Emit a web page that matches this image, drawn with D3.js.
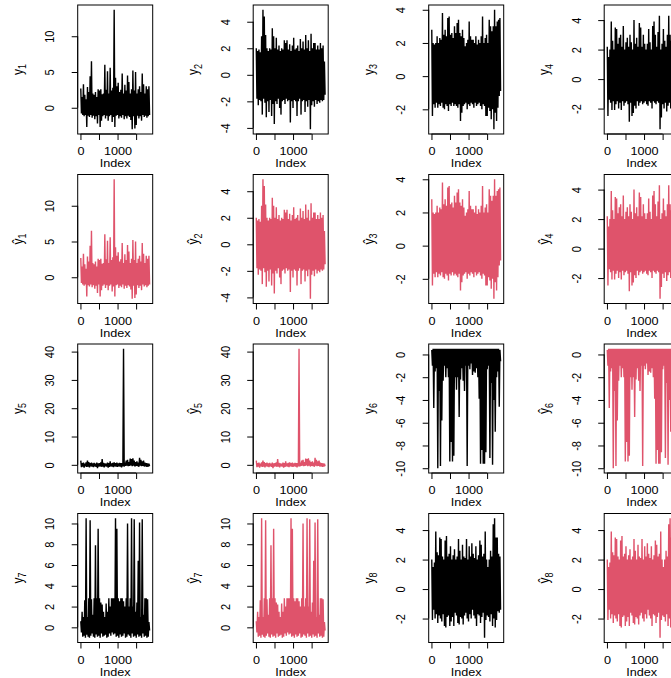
<!DOCTYPE html>
<html>
<head>
<meta charset="utf-8">
<script src="https://cdn.jsdelivr.net/npm/d3@7"></script>
<style>
  body { margin: 0; background: #fff; }
  text { font-family: "Liberation Sans", Arial, Helvetica, sans-serif; fill: #000; }
</style>
</head>
<body>
<script>
const width = 671;
const height = 678;

// each series: n points, summarised as high / low value per block of 36 indices
const nPoints = 1872;
const blockSize = 36;

const y1Hi = [2.7,1.5,3.3,1.8,1.2,2.9,2.2,4.4,6.5,2.0,1.8,2.2,1.5,2.6,2.4,2.6,1.9,2.0,6.0,2.5,5.1,2.0,5.6,2.4,2.8,13.7,4.2,3.0,3.5,2.2,2.5,4.8,2.0,3.2,2.4,4.5,3.6,2.0,2.6,5.2,2.4,5.0,2.0,2.6,3.0,2.2,4.8,3.3,2.0,3.0,2.6,3.0];
const y1Lo = [-0.8,-1.0,-1.2,-1.0,-2.7,-1.1,-1.3,-1.0,-1.4,-1.1,-1.6,-1.2,-2.2,-1.0,-2.7,-1.8,-1.2,-1.0,-1.5,-1.1,-1.8,-1.2,-1.0,-2.0,-1.3,-2.7,-1.1,-1.0,-1.5,-1.2,-1.4,-1.0,-1.6,-1.2,-1.5,-1.1,-1.3,-1.7,-3.0,-1.2,-2.9,-2.4,-1.1,-1.5,-1.2,-1.8,-1.0,-1.3,-1.1,-1.4,-1.2,-1.0];

const y2Hi = [2.0,1.8,1.9,1.7,2.9,4.9,4.4,3.0,2.0,1.8,2.0,1.9,3.5,2.9,2.0,2.8,1.9,2.2,1.8,2.0,1.9,2.6,2.4,2.6,1.9,2.3,1.8,2.2,2.8,1.9,2.0,2.2,1.8,2.7,2.0,2.5,1.9,3.0,2.0,2.6,1.8,3.1,2.0,2.4,2.4,1.9,2.2,1.9,2.4,2.0,2.2,1.0];
const y2Lo = [-1.8,-2.3,-1.9,-2.0,-3.0,-1.8,-2.1,-3.2,-2.0,-2.8,-1.9,-3.1,-2.2,-3.7,-2.0,-2.2,-1.8,-2.5,-3.0,-2.0,-1.9,-2.2,-1.8,-2.0,-1.9,-3.6,-2.0,-2.5,-1.9,-2.0,-3.1,-2.0,-1.8,-3.0,-2.0,-1.9,-2.8,-2.0,-2.4,-1.9,-4.1,-2.3,-2.0,-2.4,-1.9,-2.2,-2.0,-2.1,-1.9,-2.0,-1.9,-1.5];

const y3Hi = [2.8,2.0,1.9,2.0,2.4,2.0,2.3,2.2,3.8,2.5,2.8,2.4,3.5,3.6,2.5,2.6,2.3,3.0,2.6,3.2,3.4,2.6,2.4,2.8,2.3,1.8,2.0,2.2,3.3,2.4,2.2,2.2,2.0,2.4,1.9,2.2,2.0,2.4,3.6,2.0,2.3,2.5,2.0,3.4,3.0,2.7,3.0,4.0,3.0,3.3,3.4,3.5];
const y3Lo = [-2.4,-1.7,-1.9,-1.6,-1.9,-1.7,-1.8,-1.6,-1.9,-2.0,-1.7,-1.8,-2.1,-1.7,-1.8,-1.6,-1.8,-1.7,-1.8,-1.9,-1.7,-2.7,-2.2,-1.8,-1.7,-1.6,-2.0,-1.7,-1.8,-1.6,-1.7,-1.9,-1.6,-1.8,-1.7,-1.6,-1.8,-2.0,-1.7,-1.8,-2.4,-2.4,-1.9,-2.1,-2.6,-2.0,-3.2,-2.2,-2.7,-1.9,-1.2,-0.9];

const y4Hi = [2.2,1.5,2.0,3.9,2.6,2.0,3.5,3.4,2.4,2.8,3.0,2.2,3.6,2.0,2.5,2.8,2.2,3.0,2.5,2.0,4.0,2.4,2.8,2.2,3.8,3.5,2.2,3.0,2.4,2.0,2.4,3.4,2.5,2.0,3.6,3.9,3.0,2.2,3.2,4.3,2.0,2.4,3.4,2.6,2.2,3.0,4.3,3.0,2.6,4.7,3.2,2.8];
const y4Lo = [-2.5,-1.4,-1.6,-2.1,-1.5,-2.1,-1.7,-1.5,-2.0,-1.6,-2.1,-1.5,-1.8,-1.6,-1.5,-1.7,-2.9,-1.6,-2.5,-2.3,-1.8,-2.0,-1.5,-1.8,-1.6,-1.5,-1.7,-1.6,-1.5,-1.7,-1.8,-1.5,-1.6,-2.0,-1.5,-1.6,-1.7,-1.5,-1.6,-3.4,-2.6,-1.7,-2.0,-1.6,-2.2,-1.8,-1.6,-2.0,-1.7,-1.8,-2.0,-1.6];

const y5Hi = [1.5,0.6,0.8,0.4,0.9,1.5,1.0,0.6,0.8,0.5,0.7,0.4,0.8,0.5,0.6,0.9,2.0,0.7,0.5,0.4,0.8,0.6,1.2,0.5,0.7,0.9,0.6,0.8,0.5,0.7,0.6,0.6,41.0,0.8,1.5,1.8,1.0,2.2,2.0,2.3,1.5,1.0,1.2,0.8,2.5,1.8,1.2,1.5,0.8,0.6,0.5,0.4];
const y5Lo = [-0.8,-0.6,-1.0,-0.5,-0.7,-0.6,-0.9,-0.5,-0.6,-0.8,-0.5,-0.7,-1.2,-0.6,-0.5,-0.7,-0.6,-0.9,-0.5,-0.6,-1.0,-0.7,-0.5,-0.6,-0.8,-0.5,-0.6,-0.7,-0.5,-0.6,-0.9,-0.5,-0.6,-0.4,-0.3,-0.5,-0.4,-0.2,-0.5,-0.3,-0.6,-0.4,-0.5,-0.7,-0.3,-0.5,-0.4,-0.6,-0.5,-0.7,-0.6,-0.5];

const y6Hi = [0.4,0.5,0.5,0.5,0.5,0.5,0.5,0.5,0.5,0.5,0.5,0.5,0.5,0.5,0.5,0.5,0.5,0.5,0.5,0.5,0.5,0.5,0.5,0.5,0.5,0.5,0.5,0.5,0.5,0.5,0.5,0.5,0.5,0.5,0.5,0.5,0.5,0.5,0.5,0.5,0.5,0.5,0.5,0.5,0.5,0.5,0.5,0.5,0.5,0.5,0.5,0.4];
const y6Lo = [-1.0,-4.7,-1.5,-1.2,-10.0,-3.2,-9.8,-5.8,-2.3,-1.0,-2.0,-1.2,-2.0,-9.4,-7.7,-9.4,-8.9,-2.0,-3.1,-2.0,-5.5,-2.2,-1.2,-2.3,-3.2,-1.0,-9.8,-1.0,-1.3,-0.8,-1.8,-1.5,-1.6,-1.2,-2.0,-3.9,-9.6,-8.4,-9.6,-9.6,-8.6,-1.3,-1.0,-9.1,-2.5,-9.7,-4.0,-6.8,-2.0,-1.5,-4.6,-0.6];

const y7Hi = [0.6,1.5,1.0,2.6,10.5,1.0,2.8,10.3,2.7,1.2,2.8,7.9,2.8,9.5,2.8,2.4,2.2,1.5,1.0,2.3,1.5,2.8,2.0,2.8,2.8,2.8,10.5,9.5,2.8,2.5,2.8,2.8,2.5,2.0,2.8,10.0,2.0,2.8,10.5,2.0,10.4,1.5,2.4,6.4,10.1,1.0,10.4,1.2,2.8,2.8,2.7,0.5];
const y7Lo = [-0.5,-0.9,-0.8,-1.0,-0.7,-0.9,-1.0,-0.8,-0.6,-0.9,-1.0,-0.7,-0.9,-0.8,-1.0,-0.6,-0.9,-0.8,-0.7,-1.0,-0.9,-0.6,-0.8,-0.5,-0.7,-0.6,-0.9,-0.8,-1.0,-0.7,-0.9,-0.8,-0.6,-1.0,-0.9,-0.7,-0.8,-1.0,-0.6,-0.9,-0.8,-1.0,-0.7,-0.9,-0.8,-1.0,-0.6,-0.9,-0.8,-1.0,-0.9,-0.3];

const y8Hi = [2.0,1.5,1.8,3.9,2.5,2.3,3.5,3.4,2.2,2.0,3.3,3.6,2.2,2.4,2.9,2.0,2.3,2.7,2.0,2.2,3.4,2.6,2.0,3.0,2.2,2.1,3.4,2.0,2.9,2.2,3.1,2.4,2.1,2.9,2.0,2.3,3.3,3.0,2.2,2.4,3.9,2.0,1.5,2.0,2.6,2.2,4.4,4.8,3.5,3.5,2.4,2.2];
const y8Lo = [-2.1,-1.4,-2.0,-1.7,-2.3,-1.8,-2.0,-2.2,-1.7,-2.5,-2.6,-1.9,-1.8,-2.5,-2.2,-1.9,-2.5,-1.6,-1.8,-2.3,-2.4,-1.9,-2.0,-2.4,-1.8,-1.6,-2.0,-2.2,-1.7,-2.0,-1.4,-1.8,-2.0,-2.5,-1.7,-1.8,-2.3,-1.9,-1.6,-3.3,-2.1,-1.8,-1.9,-2.2,-1.7,-2.5,-2.0,-2.6,-2.1,-1.5,-1.6,-1.4];

// fitted series read identical to the observed ones
const yhat1Hi = y1Hi, yhat1Lo = y1Lo;
const yhat2Hi = y2Hi, yhat2Lo = y2Lo;
const yhat3Hi = y3Hi, yhat3Lo = y3Lo;
const yhat4Hi = y4Hi, yhat4Lo = y4Lo;
const yhat5Hi = y5Hi, yhat5Lo = y5Lo;
const yhat6Hi = y6Hi, yhat6Lo = y6Lo;
const yhat7Hi = y7Hi, yhat7Lo = y7Lo;
const yhat8Hi = y8Hi, yhat8Lo = y8Lo;

const xTicks = [0, 500, 1000, 1500];
const xTickLabels = ["0", "", "1000", ""];

const yTicks1 = [0, 5, 10];
const yTicks2 = [-4, -2, 0, 2, 4];
const yTicks3 = [-2, 0, 2, 4];
const yTicks4 = [-2, 0, 2, 4];
const yTicks5 = [0, 10, 20, 30, 40];
const yTicks6 = [-10, -8, -6, -4, -2, 0];
const yTicks7 = [0, 2, 4, 6, 8, 10];
const yTicks8 = [-2, 0, 2, 4];

const black = "#000000";
const red = "#DF536B";

// grid of panels, row by row
const panels = [
    { hi: y1Hi, lo: y1Lo, ticks: yTicks1, sub: "1", hat: false },
    { hi: y2Hi, lo: y2Lo, ticks: yTicks2, sub: "2", hat: false },
    { hi: y3Hi, lo: y3Lo, ticks: yTicks3, sub: "3", hat: false },
    { hi: y4Hi, lo: y4Lo, ticks: yTicks4, sub: "4", hat: false },
    { hi: yhat1Hi, lo: yhat1Lo, ticks: yTicks1, sub: "1", hat: true },
    { hi: yhat2Hi, lo: yhat2Lo, ticks: yTicks2, sub: "2", hat: true },
    { hi: yhat3Hi, lo: yhat3Lo, ticks: yTicks3, sub: "3", hat: true },
    { hi: yhat4Hi, lo: yhat4Lo, ticks: yTicks4, sub: "4", hat: true },
    { hi: y5Hi, lo: y5Lo, ticks: yTicks5, sub: "5", hat: false },
    { hi: yhat5Hi, lo: yhat5Lo, ticks: yTicks5, sub: "5", hat: true },
    { hi: y6Hi, lo: y6Lo, ticks: yTicks6, sub: "6", hat: false },
    { hi: yhat6Hi, lo: yhat6Lo, ticks: yTicks6, sub: "6", hat: true },
    { hi: y7Hi, lo: y7Lo, ticks: yTicks7, sub: "7", hat: false },
    { hi: yhat7Hi, lo: yhat7Lo, ticks: yTicks7, sub: "7", hat: true },
    { hi: y8Hi, lo: y8Lo, ticks: yTicks8, sub: "8", hat: false },
    { hi: yhat8Hi, lo: yhat8Lo, ticks: yTicks8, sub: "8", hat: true }
];

const colWidth = 175.5;
const rowHeight = 169.5;
const boxLeft = 77.7;
const boxTop = 5;
const boxW = 75;
const boxH = 129;
const tickLen = 6;
const fontSize = 11;
const stretch = 1.15; // text in the picture is a bit wider than tall

const svg = d3.select("body")
    .append("svg")
    .attr("width", width)
    .attr("height", height);

// R style axis range: data range stretched by 4% each side
function rRange(lo, hi) {
    const pad = (hi - lo) * 0.04;
    return [lo - pad, hi + pad];
}

const x = d3.scaleLinear()
    .domain(rRange(1, nPoints))
    .range([0, boxW]);

panels.forEach((p, idx) => {
    const row = Math.floor(idx / 4);
    const col = idx % 4;
    const color = p.hat ? red : black;

    // zigzag through the block highs and lows
    const points = [];
    p.hi.forEach((h, k) => {
        points.push({ i: k * blockSize + 9, v: h });
        points.push({ i: k * blockSize + 27, v: p.lo[k] });
    });

    const y = d3.scaleLinear()
        .domain(rRange(d3.min(points, d => d.v), d3.max(points, d => d.v)))
        .range([boxH, 0]);

    const g = svg.append("g")
        .attr("transform", `translate(${col * colWidth + boxLeft},${row * rowHeight + boxTop})`);

    g.append("path")
        .datum(points)
        .attr("fill", "none")
        .attr("stroke", color)
        .attr("stroke-width", 1.4)
        .attr("d", d3.line().x(d => x(d.i)).y(d => y(d.v)));

    g.append("rect")
        .attr("width", boxW)
        .attr("height", boxH)
        .attr("fill", "none")
        .attr("stroke", "#000")
        .attr("stroke-width", 1);

    // x axis
    g.append("g")
        .attr("transform", `translate(0,${boxH})`)
        .call(d3.axisBottom(x).tickValues(xTicks).tickSize(tickLen).tickSizeOuter(0)
            .tickFormat((d, i) => xTickLabels[i]))
        .call(a => a.select(".domain").attr("d", `M${x(xTicks[0])},0H${x(xTicks[xTicks.length - 1])}`))
        .call(a => a.selectAll("text")
            .attr("y", null)
            .attr("dy", null)
            .attr("transform", `translate(0,21) scale(${stretch},1)`)
            .attr("font-size", fontSize)
            .attr("font-family", null));

    // y axis with labels turned parallel to the axis
    g.append("g")
        .call(d3.axisLeft(y).tickValues(p.ticks).tickSize(tickLen).tickSizeOuter(0)
            .tickFormat(d => d < 0 ? "-" + Math.abs(d) : d))
        .call(a => a.select(".domain").attr("d", `M0,${y(p.ticks[0])}V${y(p.ticks[p.ticks.length - 1])}`))
        .call(a => a.selectAll("text")
            .attr("x", null)
            .attr("dy", null)
            .attr("transform", `translate(-23.5,0) scale(${stretch},1) rotate(-90)`)
            .attr("text-anchor", "middle")
            .attr("font-size", fontSize)
            .attr("font-family", null));

    g.append("text")
        .attr("transform", `translate(${boxW / 2},${boxH + 33}) scale(${stretch},1)`)
        .attr("text-anchor", "middle")
        .attr("font-size", fontSize)
        .text("Index");

    const ylab = g.append("text")
        .attr("transform", `translate(-55,${boxH / 2}) scale(${stretch},1) rotate(-90)`)
        .attr("text-anchor", "middle")
        .attr("font-size", fontSize + 1);
    ylab.append("tspan").text(p.hat ? "\u0177" : "y");
    ylab.append("tspan")
        .attr("font-size", 9)
        .attr("dy", 3)
        .text(p.sub);
});
</script>
</body>
</html>
